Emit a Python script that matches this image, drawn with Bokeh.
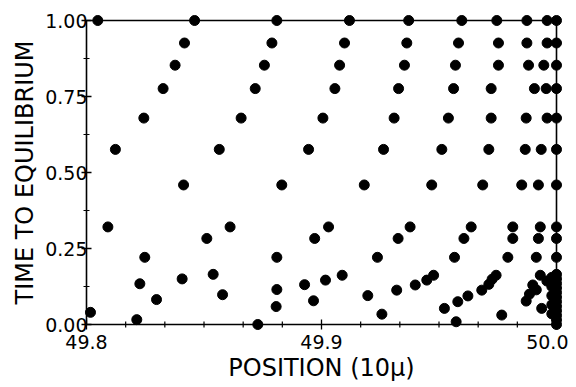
from bokeh.plotting import figure
from bokeh.models import FixedTicker, PrintfTickFormatter, Range1d
from bokeh.embed import file_html
from bokeh.resources import INLINE

# ---- data ----
# rows of points at common time levels
row_levels = [1.000, 0.926, 0.853, 0.776, 0.679, 0.576, 0.459, 0.321, 0.283, 0.221]
row_positions = [
    [49.8048, 49.8460, 49.8810, 49.9119, 49.9371, 49.9597, 49.9746, 49.9874, 49.9960, 50.0],
    [49.8417, 49.8789, 49.9098, 49.9363, 49.9583, 49.9753, 49.9874, 49.9960, 50.0],
    [49.8377, 49.8757, 49.9077, 49.9353, 49.9570, 49.9753, 49.9881, 49.9946, 50.0],
    [49.8326, 49.8718, 49.9057, 49.9328, 49.9562, 49.9722, 49.9906, 49.9956, 50.0],
    [49.8244, 49.8658, 49.9006, 49.9309, 49.9540, 49.9722, 49.9871, 49.9960, 50.0],
    [49.8123, 49.8565, 49.8945, 49.9264, 49.9512, 49.9712, 49.9867, 49.9935, 50.0],
    [49.8413, 49.8831, 49.9182, 49.9469, 49.9686, 49.9852, 49.9923, 50.0],
    [49.8091, 49.8611, 49.9030, 49.9377, 49.9637, 49.9814, 49.9931, 50.0],
    [49.8512, 49.8971, 49.9326, 49.9606, 49.9814, 49.9923, 50.0],
    [49.8248, 49.8810, 49.9238, 49.9566, 49.9793, 49.9914, 50.0],
]

# remaining points near the bottom of the chart
low_x = [49.8539, 49.8407, 49.8227, 49.8579, 49.8298, 49.8017, 49.8214,
         49.9088, 49.9017, 49.8928, 49.8810, 49.9320, 49.9197, 49.8966, 49.8807, 49.9257, 49.8729,
         49.9477, 49.9448, 49.9399,
         49.9743, 49.9726, 49.9712, 49.9682, 49.9623, 49.9580, 49.9523, 49.9573, 49.9767,
         49.9931, 49.9959, 49.9899, 49.9914, 49.9885, 49.9871, 49.9937]
low_y = [0.165, 0.150, 0.134, 0.098, 0.082, 0.040, 0.016,
         0.162, 0.146, 0.131, 0.115, 0.113, 0.095, 0.078, 0.059, 0.034, 0.000,
         0.162, 0.146, 0.130,
         0.162, 0.149, 0.132, 0.113, 0.094, 0.075, 0.053, 0.009, 0.031,
         0.162, 0.143, 0.130, 0.114, 0.100, 0.077, 0.053]

# dense stack at the right edge
edge_x = [50.0, 50.0, 50.0, 50.0, 50.0, 50.0, 50.0, 50.0, 50.0, 50.0, 50.0, 50.0,
          49.998, 49.998, 49.998, 49.998, 49.998]
edge_y = [0.165, 0.150, 0.135, 0.120, 0.105, 0.090, 0.075, 0.060, 0.045, 0.030, 0.015, 0.000,
          0.155, 0.125, 0.095, 0.065, 0.035]

x_ticks = [49.8, 49.9, 50.0]
y_ticks = [0.0, 0.25, 0.50, 0.75, 1.00]
x_minor = [49.8 + 0.1 * k / 6 for k in range(1, 12) if k != 6]
y_minor = [0.125, 0.375, 0.625, 0.875]

X0, X1 = 49.8, 50.0
Y0, Y1 = 0.0, 1.0

xs, ys = [], []
for lev, pos in zip(row_levels, row_positions):
    xs += pos
    ys += [lev] * len(pos)
xs += low_x + edge_x
ys += low_y + edge_y

# ---- layout ----
BOX_W, BOX_H, PAD = 470, 304, 6
padx = PAD * (X1 - X0) / BOX_W
pady = PAD * (Y1 - Y0) / BOX_H
FONT = "DejaVu Sans"

p = figure(width=568, height=386, output_backend="svg", toolbar_location=None,
           x_range=Range1d(X0 - padx, X1 + padx), y_range=Range1d(Y0 - pady, Y1 + pady),
           min_border_left=80, min_border_right=6, min_border_top=14, min_border_bottom=56)
p.outline_line_color = None
p.grid.visible = False
p.background_fill_color = "white"
p.border_fill_color = "white"

for ax in (p.xaxis[0], p.yaxis[0]):
    ax.axis_line_color = None
    ax.major_tick_line_color = None
    ax.minor_tick_line_color = None
    ax.major_tick_in = 0
    ax.major_tick_out = 0
    ax.minor_tick_in = 0
    ax.minor_tick_out = 0
    ax.major_label_text_font = FONT
    ax.major_label_text_font_size = "19px"
    ax.major_label_text_color = "black"
    ax.axis_label_text_font = FONT
    ax.axis_label_text_font_size = "24px"
    ax.axis_label_text_font_style = "normal"
    ax.axis_label_text_color = "black"

p.xaxis.ticker = FixedTicker(ticks=x_ticks)
p.xaxis.formatter = PrintfTickFormatter(format="%.1f")
p.xaxis.major_label_standoff = 4
p.xaxis.axis_label = "POSITION (10\u03bc)"
p.xaxis.axis_label_standoff = 2

p.yaxis.ticker = FixedTicker(ticks=y_ticks)
p.yaxis.formatter = PrintfTickFormatter(format="%.2f")
p.yaxis.major_label_standoff = -7
p.yaxis.axis_label = "TIME TO EQUILIBRIUM"
p.yaxis.axis_label_standoff = 3

# frame box
p.segment(x0=[X0, X0, X0, X1], y0=[Y0, Y1, Y0, Y0], x1=[X1, X1, X0, X1], y1=[Y0, Y1, Y1, Y1],
          line_color="black", line_width=1.6)

# tick marks (crossing the axis lines)
mj_y = 5 * (Y1 - Y0) / BOX_H
mn_y = 3 * (Y1 - Y0) / BOX_H
mj_x = 5 * (X1 - X0) / BOX_W
mn_x = 3 * (X1 - X0) / BOX_W
p.segment(x0=x_ticks, x1=x_ticks, y0=[Y0 - mj_y] * len(x_ticks), y1=[Y0 + mj_y] * len(x_ticks),
          line_color="black", line_width=1.3)
p.segment(x0=x_minor, x1=x_minor, y0=[Y0 - mn_y] * len(x_minor), y1=[Y0 + mn_y] * len(x_minor),
          line_color="black", line_width=1.2)
p.segment(y0=y_ticks, y1=y_ticks, x0=[X0 - mj_x] * len(y_ticks), x1=[X0 + mj_x] * len(y_ticks),
          line_color="black", line_width=1.3)
p.segment(y0=y_minor, y1=y_minor, x0=[X0 - mn_x] * len(y_minor), x1=[X0 + mn_x] * len(y_minor),
          line_color="black", line_width=1.2)

p.scatter(xs, ys, size=10, color="black", marker="circle")

open("out.html", "w").write(file_html(p, INLINE))
